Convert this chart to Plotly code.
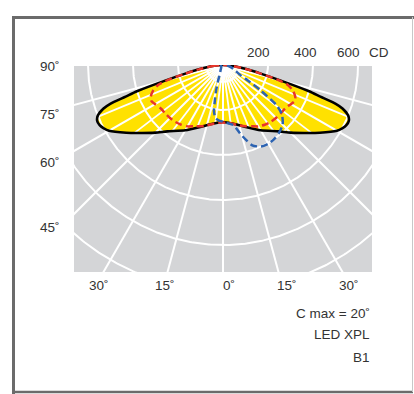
import numpy as np
import plotly.graph_objects as go

# ---------------- data (angle from nadir in degrees, intensity in cd) ----------------
black_angles = [-90, -85, -80, -77, -75, -73, -72, -71, -70, -68, -66, -64, -62, -60, -55, -50, -45, -40, -30, -20, -10, 0,
                10, 20, 30, 40, 45, 50, 55, 60, 62, 64, 66, 68, 70, 71, 72, 73, 75, 77, 80, 85, 90]
black_cd = [0, 40, 105, 175, 260, 400, 455, 530, 565, 600, 612, 610, 600, 585, 525, 470, 425, 385, 335, 293, 265, 253,
            265, 293, 335, 385, 425, 470, 525, 585, 600, 610, 612, 600, 565, 530, 455, 400, 260, 175, 105, 40, 0]

red_angles = [-90, -85, -80, -77, -75, -73, -70, -66, -63, -60, -55, -50, -45, -40, -35, -30, -25, -20, -15, -10, -5, 0,
              5, 10, 15, 20, 25, 30, 35, 40, 45, 50, 55, 60, 63, 66, 70, 73, 75, 77, 80, 85, 90]
red_cd = [0, 40, 105, 175, 250, 300, 330, 352, 356, 348, 337, 335, 333, 330, 324, 315, 300, 290, 278, 266, 258, 256,
          258, 266, 278, 290, 300, 315, 324, 330, 333, 335, 337, 348, 356, 352, 330, 300, 250, 175, 105, 40, 0]

blue_angles = [-90, -60, -40, -30, -25, -20, -17, -15, -13, -11, -8, -4, 0, 5, 10, 15, 20, 25, 30, 35, 40, 45, 50,
               53, 56, 58, 60, 65, 70, 80, 90]
blue_cd = [8, 10, 12, 18, 25, 40, 80, 120, 160, 210, 238, 248, 252, 260, 272, 325, 380, 400, 404, 400, 390, 375, 342,
           300, 200, 130, 88, 62, 48, 25, 8]

ring_cd = [200, 400, 600, 800, 1000, 1200]
inner_ring_cd = 75
major_spoke_deg = [-90, -75, -60, -45, -30, -15, 0, 15, 30, 45, 60, 75, 90]
minor_spoke_deg = [-82.5, -67.5, -52.5, -37.5, -22.5, -7.5, 7.5, 22.5, 37.5, 52.5, 67.5, 82.5]

left_labels = ["90˚", "75˚", "60˚", "45˚"]
bottom_labels = ["30˚", "15˚", "0˚", "15˚", "30˚"]
top_labels = ["200", "400", "600", "CD"]
info_labels = ["C max = 20˚", "LED XPL", "B1"]

# ---------------- geometry helpers ----------------
W, H = 414, 394
L, R, T, B = 74, 42, 65, 122
PW, PH = W - L - R, H - T - B
SCALE = 0.225  # px per cd
XR = PW / 2 / SCALE
YR = PH / SCALE


def to_xy(angles, cd):
    a = np.radians(np.asarray(angles, dtype=float))
    r = np.asarray(cd, dtype=float)
    return r * np.sin(a), -r * np.cos(a)


def px(x, y):
    return (x - L) / PW, (H - B - y) / PH


fig = go.Figure()

# yellow fill
bx, by = to_xy(black_angles, black_cd)
fig.add_trace(go.Scatter(x=bx, y=by, mode="lines", fill="toself", fillcolor="#FFE100",
                         line=dict(width=0, color="#FFE100", shape="spline", smoothing=0.6),
                         hoverinfo="skip", showlegend=False))

GRID = dict(color="white", width=2)
GRID_IN = dict(color="white", width=1.8)
# rings
th = np.linspace(-90, 90, 361)
for c in ring_cd:
    x, y = to_xy(th, np.full_like(th, c))
    fig.add_trace(go.Scatter(x=x, y=y, mode="lines", line=GRID, hoverinfo="skip", showlegend=False))
th_in = np.linspace(-78, 78, 157)
x, y = to_xy(th_in, np.full_like(th_in, inner_ring_cd))
fig.add_trace(go.Scatter(x=x, y=y, mode="lines", line=GRID_IN, hoverinfo="skip", showlegend=False))

# spokes
for a in major_spoke_deg:
    x, y = to_xy([a, a], [0, 1600])
    fig.add_trace(go.Scatter(x=x, y=y, mode="lines", line=GRID, hoverinfo="skip", showlegend=False))
for a in minor_spoke_deg:
    rmax = float(np.interp(a, black_angles, black_cd))
    x, y = to_xy([a, a], [0, rmax])
    fig.add_trace(go.Scatter(x=x, y=y, mode="lines", line=GRID_IN, hoverinfo="skip", showlegend=False))

# curves
fig.add_trace(go.Scatter(x=bx, y=by, mode="lines",
                         line=dict(color="black", width=2.6, shape="spline", smoothing=0.6),
                         hoverinfo="skip", showlegend=False))
rx, ry = to_xy(red_angles, red_cd)
fig.add_trace(go.Scatter(x=rx, y=ry, mode="lines",
                         line=dict(color="#E8352B", width=2.5, dash="7px,4px", shape="spline", smoothing=0.6),
                         hoverinfo="skip", showlegend=False))
ux, uy = to_xy(blue_angles, blue_cd)
fig.add_trace(go.Scatter(x=ux, y=uy, mode="lines",
                         line=dict(color="#2C63B2", width=2.5, dash="7px,4px", shape="spline", smoothing=0.6),
                         hoverinfo="skip", showlegend=False))

# ---------------- text ----------------
FONT = dict(family="Liberation Sans, Arial, sans-serif", size=13.5, color="#333333")
ann = []
for lab, yy in zip(left_labels, [66, 114, 162, 227]):
    xp, yp = px(62, yy)
    ann.append(dict(text=lab, x=xp, y=yp, xanchor="right", yanchor="middle"))
for lab, xx in zip(bottom_labels, [99, 165, 229, 287, 349]):
    xp, yp = px(xx, 285)
    ann.append(dict(text=lab, x=xp, y=yp, xanchor="center", yanchor="middle"))
for lab, xx in zip(top_labels, [258, 305, 348, 379]):
    xp, yp = px(xx, 53)
    ann.append(dict(text=lab, x=xp, y=yp, xanchor="center", yanchor="middle"))
for lab, yy in zip(info_labels, [313, 334, 357]):
    xp, yp = px(372, yy)
    ann.append(dict(text=lab, x=xp, y=yp, xanchor="right", yanchor="middle"))
for a in ann:
    a.update(xref="paper", yref="paper", showarrow=False, font=FONT)

# ---------------- frame ----------------
shapes = []
def seg(x0, y0, x1, y1, color, width):
    a0, b0 = px(x0, y0)
    a1, b1 = px(x1, y1)
    shapes.append(dict(type="line", xref="paper", yref="paper", x0=a0, y0=b0, x1=a1, y1=b1,
                       line=dict(color=color, width=width)))

seg(13.5, 16, 13.5, 394, "#6b6b6b", 3)
seg(12, 17.5, 414, 17.5, "#6b6b6b", 3)
seg(12, 392, 413, 392, "#6b6b6b", 2.5)
seg(412.5, 17, 412.5, 392, "#c8c8c8", 1)

fig.update_layout(
    width=W, height=H,
    margin=dict(l=L, r=R, t=T, b=B),
    paper_bgcolor="white",
    plot_bgcolor="#D4D5D7",
    xaxis=dict(range=[-XR, XR], visible=False, fixedrange=True),
    yaxis=dict(range=[-YR, 0], visible=False, fixedrange=True),
    annotations=ann,
    shapes=shapes,
    showlegend=False,
)

fig.write_html("out.html", config={"displayModeBar": False},
               post_script="document.body.style.margin='0px';document.body.style.overflow='hidden';")
